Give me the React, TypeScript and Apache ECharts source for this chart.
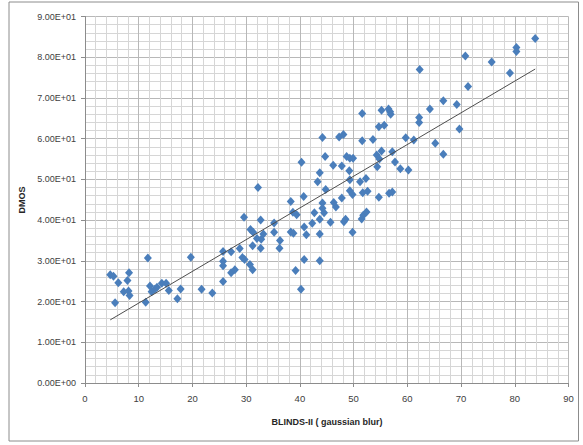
import React, { useEffect, useRef } from "react";
import * as echarts from "echarts";

// BLINDS-II (gaussian blur) score
const blindsX: number[] = [
  4.7, 5.3, 5.6, 6.2, 7.9, 8.2, 7.2, 8.1, 8.3, 11.3, 11.7, 12.1, 12.4, 13.0, 13.4, 14.3, 15.1, 15.6, 17.2, 17.8, 19.7,
  21.7, 23.7, 25.7, 25.7, 25.7, 25.7, 27.2, 27.2, 27.9, 28.8, 29.3, 29.7, 29.6,
  30.8, 31.3, 30.7, 31.2, 31.2, 32.0, 32.2, 32.7, 32.8, 32.7, 33.2, 35.2, 35.2, 36.3, 36.2, 38.3, 38.7, 39.4, 38.3, 38.8, 39.2,
  40.3, 40.7, 40.8, 41.2, 40.8, 40.2, 42.3, 42.7, 43.3, 43.7, 43.7, 43.7, 43.7, 44.2, 44.7, 44.8, 44.2, 44.2, 44.5, 45.7,
  46.2, 46.3, 46.7, 47.3, 48.1, 47.8, 47.8, 48.7, 49.3, 49.9, 49.2, 49.3, 49.3, 49.8, 48.5, 48.2, 49.8,
  51.6, 51.6, 51.2, 52.3, 51.7, 52.6, 51.5, 51.8, 52.4, 53.6, 54.7, 55.7, 55.2, 56.5, 56.8, 56.9, 54.3, 54.8, 54.4, 55.2,
  57.2, 57.7, 58.7, 60.2, 54.7, 56.6, 57.2, 59.7,
  61.2, 62.2, 62.2, 62.3, 64.2, 65.2, 66.7, 66.7, 69.2, 69.7, 70.8, 71.3, 75.7, 79.1, 80.3, 80.3, 83.8,
];

// DMOS
const dmosY: number[] = [
  26.6, 26.2, 19.7, 24.6, 25.2, 27.1, 22.4, 22.6, 21.5, 19.8, 30.7, 23.8, 22.4, 23.0, 23.5, 24.5, 24.5, 22.7, 20.7, 23.1, 30.9,
  23.0, 22.1, 24.9, 28.8, 29.9, 32.3, 32.2, 27.1, 27.8, 33.0, 30.8, 30.3, 40.7,
  37.7, 37.0, 29.1, 27.8, 33.7, 35.5, 48.0, 40.0, 35.3, 33.1, 36.6, 39.3, 37.0, 35.0, 33.1, 44.6, 41.9, 41.3, 37.1, 36.8, 27.6,
  54.2, 45.8, 38.3, 36.4, 30.3, 23.0, 39.2, 41.8, 49.4, 51.6, 40.2, 36.6, 30.0, 60.3, 55.6, 47.5, 44.2, 42.9, 41.8, 39.5,
  53.5, 44.3, 43.2, 60.4, 61.0, 53.3, 45.4, 55.6, 55.2, 55.2, 52.1, 49.9, 47.2, 46.3, 40.2, 39.6, 37.0,
  66.2, 59.5, 49.4, 50.2, 46.7, 47.1, 40.3, 41.2, 42.0, 59.8, 62.9, 63.3, 67.0, 67.3, 66.6, 66.0, 56.0, 55.0, 53.1, 57.0,
  56.8, 54.3, 52.6, 52.3, 45.6, 46.6, 46.9, 60.2,
  59.7, 65.2, 64.0, 77.0, 67.3, 58.9, 69.3, 56.2, 68.4, 62.4, 80.3, 72.8, 78.8, 76.1, 82.4, 81.4, 84.6,
];

// Linear trendline endpoints
const trendX: number[] = [4.7, 83.8];
const trendY: number[] = [15.5, 77.1];

const axisTicks: number[] = [0, 10, 20, 30, 40, 50, 60, 70, 80, 90];
const xAxisTitle = "BLINDS-II ( gaussian blur)";
const yAxisTitle = "DMOS";

function sci(v: number): string {
  if (v === 0) return "0.00E+00";
  const e = Math.floor(Math.log10(Math.abs(v)) + 1e-9);
  const m = v / Math.pow(10, e);
  const sign = e < 0 ? "-" : "+";
  return `${m.toFixed(2)}E${sign}${String(Math.abs(e)).padStart(2, "0")}`;
}

export default function App() {
  const ref = useRef<HTMLDivElement>(null);
  useEffect(() => {
    if (!ref.current) return;
    const chart = echarts.init(ref.current, undefined, { renderer: "svg" });

    const pts = blindsX.map((x, i) => [x, dmosY[i]]);
    const trend = trendX.map((x, i) => [x, trendY[i]]);

    const font = "'Liberation Sans', Arial, sans-serif";
    const axisCommon = {
      min: axisTicks[0],
      max: axisTicks[axisTicks.length - 1],
      interval: 10,
      axisLine: { show: true, onZero: false, lineStyle: { color: "#8c8c8c", width: 1 } },
      axisTick: { show: true, inside: false, length: 4, lineStyle: { color: "#8c8c8c" } },
      splitLine: { show: true, lineStyle: { color: "#b8b8b8", width: 1 } },
      minorTick: { show: false, splitNumber: 5 },
      minorSplitLine: { show: true, lineStyle: { color: "#d6d6d6", width: 1 } },
    };

    chart.setOption({
      animation: false,
      backgroundColor: "#ffffff",
      grid: { left: 85, right: 14.5, top: 16.5, bottom: 62, containLabel: false },
      xAxis: {
        type: "value",
        ...axisCommon,
        axisLabel: { color: "#404040", fontFamily: font, fontSize: 9.5, margin: 10 },
      },
      yAxis: {
        type: "value",
        ...axisCommon,
        axisLabel: { color: "#404040", fontFamily: font, fontSize: 9, margin: 9, formatter: (v: number) => sci(v) },
      },
      graphic: [
        {
          type: "rect",
          shape: { x: 9, y: 2, width: 569.5, height: 439 },
          style: { fill: "none", stroke: "#8c8c8c", lineWidth: 1 },
          silent: true,
          z: -1,
        },
        {
          type: "text",
          x: 327,
          y: 422,
          style: {
            text: xAxisTitle,
            fontFamily: font,
            fontSize: 9,
            fontWeight: "bold",
            fill: "#262626",
            textAlign: "center",
            textVerticalAlign: "middle",
          },
        },
        {
          type: "text",
          x: 22,
          y: 200,
          rotation: Math.PI / 2,
          style: {
            text: yAxisTitle,
            fontFamily: font,
            fontSize: 9,
            fontWeight: "bold",
            fill: "#262626",
            textAlign: "center",
            textVerticalAlign: "middle",
          },
        },
      ],
      series: [
        {
          type: "scatter",
          data: pts,
          symbol: "diamond",
          symbolSize: [8, 9],
          itemStyle: { color: "#4a7ebb", opacity: 1 },
          z: 3,
        },
        {
          type: "line",
          data: trend,
          showSymbol: false,
          symbol: "none",
          lineStyle: { color: "#4d4d4d", width: 1 },
          z: 4,
        },
      ],
    });
    return () => chart.dispose();
  }, []);
  return (
    <div
      ref={ref}
      style={{ position: "absolute", left: 0, top: 0, width: 583, height: 445, background: "#fff" }}
    />
  );
}
